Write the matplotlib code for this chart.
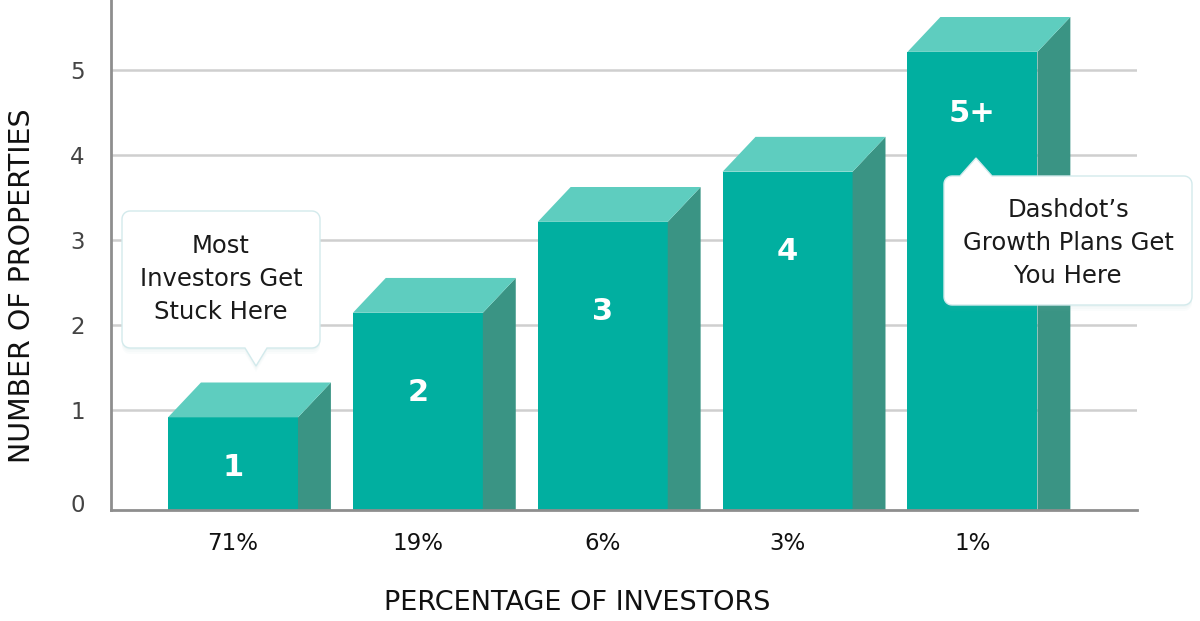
import matplotlib
matplotlib.use("Agg")
import matplotlib.pyplot as plt
import numpy as np
from matplotlib.patches import Polygon
from matplotlib.transforms import Affine2D, ScaledTranslation

# ---------------- data ----------------
categories = ["71%", "19%", "6%", "3%", "1%"]
bar_values = [0.91, 2.14, 3.21, 3.80, 5.21]
bar_labels = ["1", "2", "3", "4", "5+"]
bar_label_y = [0.32, 1.20, 2.15, 2.86, 4.49]
y_ticks = [0, 1, 2, 3, 4, 5]
callout_left = "Most\nInvestors Get\nStuck Here"
callout_right = "Dashdot\u2019s\nGrowth Plans Get\nYou Here"

# ---------------- style ----------------
W, H = 1200, 621
FRONT = "#01afa0"
TOP = "#5ecdbf"
SIDE = "#3a9484"
GRID = "#cfcfcf"
SPINE = "#8e8e8e"
FONT = ["DejaVu Sans"]
plt.rcParams["font.family"] = FONT

fig = plt.figure(figsize=(W / 100, H / 100), dpi=100)
ax = fig.add_axes([111 / W, 1 - 510 / H, (1137 - 111) / W, 510 / H])

y_base = -0.18
ax.set_ylim(y_base, 5.82)
ax.set_xlim(-0.66, 4.89)

x = np.arange(len(categories))
width = 0.703
dx, dy = 0.178, 0.41

heights = [v - y_base for v in bar_values]
ax.bar(x, heights, bottom=y_base, width=width, color=FRONT, zorder=3, linewidth=0)
for xi, v in zip(x, bar_values):
    xr = xi + width / 2
    xl = xi - width / 2
    side = Polygon([(xr, y_base), (xr, v), (xr + dx, v + dy), (xr + dx, y_base)],
                   closed=True, facecolor=SIDE, edgecolor="none", zorder=3, clip_on=False)
    top = Polygon([(xl, v), (xl + dx, v + dy), (xr + dx, v + dy), (xr, v)],
                  closed=True, facecolor=TOP, edgecolor="none", zorder=3, clip_on=False)
    ax.add_patch(side)
    ax.add_patch(top)

for xi, lab, ly in zip(x, bar_labels, bar_label_y):
    ax.text(xi, ly, lab, ha="center", va="center", color="white",
            fontsize=22, fontweight="bold", zorder=5)

ax.set_yticks(y_ticks)
ax.set_yticklabels([str(t) for t in y_ticks])
ax.set_xticks(x)
ax.set_xticklabels(categories)
ax.tick_params(axis="both", length=0)
ax.tick_params(axis="y", labelsize=16.5, labelcolor="#444444", pad=19)
ax.tick_params(axis="x", labelsize=16.5, labelcolor="#111111", pad=16)
# the "0" label sits a little lower, near the baseline
ylabels = ax.get_yticklabels()
ylabels[0].set_transform(ylabels[0].get_transform() + ScaledTranslation(0, -0.08, fig.dpi_scale_trans))

ax.grid(axis="y", color=GRID, linewidth=1.8, zorder=0)
ax.set_axisbelow(True)
ax.yaxis.get_gridlines()[0].set_visible(False)

for s in ["top", "right"]:
    ax.spines[s].set_visible(False)
for s in ["left", "bottom"]:
    ax.spines[s].set_color(SPINE)
    ax.spines[s].set_linewidth(2)
    ax.spines[s].set_zorder(4)

ax.set_xlabel("PERCENTAGE OF INVESTORS", fontsize=19.5, color="#111111", va="center")
ax.set_ylabel("NUMBER OF PROPERTIES", fontsize=20.5, color="#111111", va="center")
ax.xaxis.set_label_coords((577 - 111) / 1026, (510 - 603) / 510)
ax.yaxis.set_label_coords((22 - 111) / 1026, (510 - 286) / 510)

# ---------------- callouts (pixel coordinates, y downward) ----------------
pix = Affine2D().scale(1, -1).translate(0, H)


def callout_verts(x0, y0, x1, y1, r, tx, ty, bh, where):
    pts = []
    def arc(cx, cy, a0, a1):
        for a in np.linspace(np.radians(a0), np.radians(a1), 8):
            pts.append((cx + r * np.cos(a), cy + r * np.sin(a)))
    arc(x0 + r, y0 + r, 180, 270)
    if where == "top":
        pts += [(tx - bh, y0), (tx, ty), (tx + bh, y0)]
    arc(x1 - r, y0 + r, 270, 360)
    arc(x1 - r, y1 - r, 0, 90)
    if where == "bottom":
        pts += [(tx + bh, y1), (tx, ty), (tx - bh, y1)]
    arc(x0 + r, y1 - r, 90, 180)
    return pts


def draw_callout(x0, y0, x1, y1, tx, ty, bh, where, text, lines_y):
    v = callout_verts(x0, y0, x1, y1, 8, tx, ty, bh, where)
    for k, a in [(6, 0.03), (4, 0.04), (2, 0.05)]:
        sh = Polygon([(px, py + k) for px, py in v], closed=True, facecolor="#7fb8b8",
                     edgecolor="none", alpha=a, transform=pix, zorder=6)
        fig.add_artist(sh)
    p = Polygon(v, closed=True, facecolor="white", edgecolor="#d3eaec",
                linewidth=1.0, transform=pix, zorder=7)
    fig.add_artist(p)
    cx = (x0 + x1) / 2
    fig.text(cx, lines_y, text, transform=pix, ha="center", va="center",
             fontsize=17.5, color="#1a1a1a", linespacing=1.45, zorder=8)


draw_callout(122, 211, 320, 348, 256, 366, 11, "bottom", callout_left, 279)
draw_callout(944, 176, 1192, 305, 976, 158, 16, "top", callout_right, 243)

fig.savefig("out.png", dpi=100)
